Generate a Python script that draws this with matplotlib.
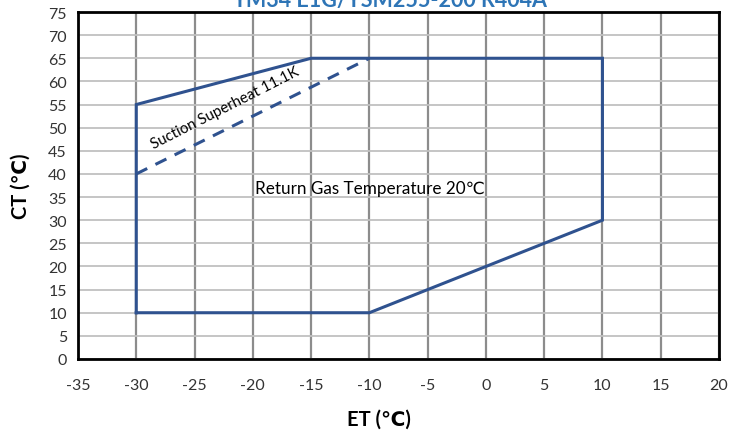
import matplotlib
matplotlib.use("Agg")
import matplotlib.pyplot as plt

plt.rcParams['font.family'] = ['Lato', 'DejaVu Sans']
plt.rcParams['axes.unicode_minus'] = False

# operating envelope (ET, CT)
env_et = [-30, -30, -15, 10, 10, -10, -30]
env_ct = [10, 55, 65, 65, 30, 10, 10]

# suction superheat 11.1K limit line
sh_et = [-30, -10]
sh_ct = [40, 65]

x_ticks = list(range(-35, 25, 5))
y_ticks = list(range(0, 80, 5))

title = "YM34 E1G/YSM255-200 R404A"
line_color = '#2F528F'

fig = plt.figure(figsize=(7.3, 4.39), dpi=100)
ax = fig.add_axes([78 / 730, 79 / 439, 641 / 730, 347 / 439])

ax.plot(env_et, env_ct, color=line_color, lw=2.2, solid_joinstyle='miter', zorder=3)
ax.plot(sh_et, sh_ct, color=line_color, lw=2.2, ls=(0, (4, 3)), zorder=3)

ax.set_xlim(-35, 20)
ax.set_ylim(0, 75)
ax.set_xticks(x_ticks)
ax.set_yticks(y_ticks)
ax.tick_params(length=0, labelsize=11.5, colors='#333333', pad=8)
ax.tick_params(axis='x', pad=14)

for x in x_ticks:
    ax.axvline(x, color='#8c8c8c', lw=1.6, zorder=1)
for y in y_ticks:
    ax.axhline(y, color='#c0c0c0', lw=1.3, zorder=1)

for s in ax.spines.values():
    s.set_color('black')
    s.set_linewidth(2)
    s.set_zorder(4)

ax.set_xlabel('ET (℃)', fontsize=14.5, fontweight='bold', va='center')
ax.xaxis.set_label_coords((379 - 78) / 641, -(420 - 360) / 347)
ax.set_ylabel('CT (℃)', fontsize=14.5, fontweight='bold', va='center')
ax.yaxis.set_label_coords(-(78 - 21) / 641, 0.5)

ax.text(-22.4, 54.3, 'Suction Superheat 11.1K', rotation=27, fontsize=10.8,
        ha='center', va='center', rotation_mode='anchor', zorder=5)
ax.text(-19.8, 37.0, 'Return Gas Temperature 20℃', fontsize=12.3,
        ha='left', va='center', zorder=5)

fig.text(390 / 730, 1 - 7 / 439, title, color='#2E75B6', fontsize=15.5,
         fontweight='bold', ha='center', va='baseline')

fig.savefig('out.png', dpi=100)
